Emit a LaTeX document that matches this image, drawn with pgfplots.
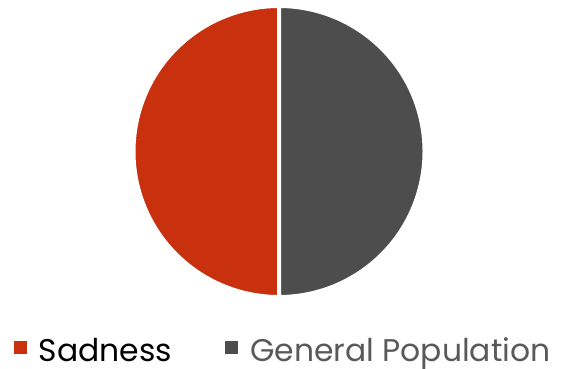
\documentclass[border=0pt]{standalone}
\usepackage{pgfplots}
\pgfplotsset{compat=1.18}
\usepackage{fontspec}
\setmainfont{Poppins}
\definecolor{sad}{HTML}{C9300E}
\definecolor{gen}{HTML}{4D4D4D}
\definecolor{gtext}{HTML}{595959}
\begin{document}
\begin{tikzpicture}
\begin{axis}[x=1bp, y=1bp, xmin=0, xmax=562, ymin=0, ymax=368,
  hide axis, clip=false, scale only axis,
  legend columns=2,
  legend style={draw=none, fill=none, at={(axis cs:14,3)}, anchor=south west,
    inner sep=0pt, outer sep=0pt,
    font=\fontsize{31.5}{33}\selectfont,
    /tikz/every odd column/.append style={column sep=10bp},
    /tikz/every even column/.append style={column sep=51bp}},
  legend cell align=left,
  legend image code/.code={\fill[#1, draw=none] (0bp,-4bp) rectangle (13bp,9bp);}]
% shares: Sadness 50, General Population 50 -> half circles
\addplot[fill=sad, draw=white, line width=4bp, domain=90:270, samples=181]
  ({279+145.5*cos(x)}, {216.5+145.5*sin(x)}) -- cycle;
\addlegendentry{\textcolor{black}{Sadness}}
\addplot[fill=gen, draw=white, line width=4bp, domain=-90:90, samples=181]
  ({279+145.5*cos(x)}, {216.5+145.5*sin(x)}) -- cycle;
\addlegendentry{\textcolor{gtext}{General Population}}
\end{axis}
\pgfresetboundingbox
\path (current axis.south west) rectangle (current axis.north east);
\end{tikzpicture}
\end{document}
